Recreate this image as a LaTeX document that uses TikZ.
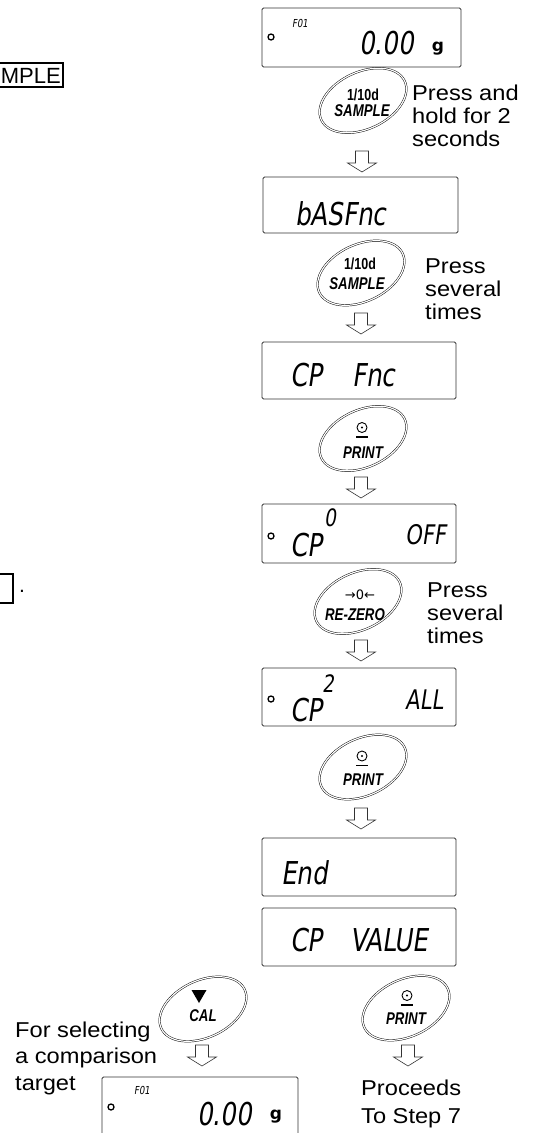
\documentclass[tikz,border=0pt]{standalone}
\usepackage{fontspec}
\setmainfont{Liberation Sans}
\newfontfamily\lcdfont[FakeSlant=0.15,FakeStretch=0.78]{DejaVu Sans}
\newfontfamily\keyfont[FakeStretch=0.78]{Liberation Sans}
\newfontfamily\notefont[FakeStretch=1.1]{Liberation Sans}
\newfontfamily\symfont{DejaVu Sans}
\usetikzlibrary{shapes.geometric}
\tikzset{
  blk/.pic={\draw[line width=0.6pt, draw=black!80, fill=white, line join=miter]
     (-6.5,0) -- (6.5,0) -- (6.5,12) -- (14.5,12) -- (0,21) -- (-14.5,12) -- (-6.5,12) -- cycle;},
  prsym/.pic={\draw[line width=0.9pt] (0,0) circle (5pt);
     \fill (0,0) circle (1.1pt);
     \draw[line width=1.3pt] (-6,9.5) -- (6,9.5);}
}
\begin{document}
\begin{tikzpicture}[x=1pt,y=-1pt,
 disp/.style={draw=black!80, line width=0.8pt, rounded corners=1.5pt, inner sep=0pt},
 btn/.style={ellipse, draw, double, double distance=1.2pt, line width=0.45pt, inner sep=0pt,
   minimum width=92pt, minimum height=57pt, rotate=25},
 keyt/.style={font=\keyfont\bfseries\itshape\fontsize{17}{17}\selectfont, inner sep=0pt},
 keyu/.style={font=\keyfont\bfseries\fontsize{16}{16}\selectfont, inner sep=0pt},
 lcdL/.style={font=\lcdfont\fontsize{31.5}{31.5}\selectfont, inner sep=0pt, anchor=west},
 lcdM/.style={font=\lcdfont\fontsize{27}{27}\selectfont, inner sep=0pt, anchor=west},
 lcdS/.style={font=\lcdfont\fontsize{24}{24}\selectfont, inner sep=0pt},
 lcdXS/.style={font=\lcdfont\fontsize{11}{11}\selectfont, inner sep=0pt},
 unitg/.style={font=\symfont\bfseries\fontsize{17}{17}\selectfont, inner sep=0pt, anchor=base},
 note/.style={font=\notefont\fontsize{21.5}{23}\selectfont, align=left, inner sep=0pt, anchor=west},
 ind/.style={circle, draw, line width=1.3pt, inner sep=0pt, minimum size=6pt},
 frag/.style={line width=1.1pt}
]
\useasboundingbox (0,0) rectangle (534,1133);
\clip (0,0) rectangle (534,1133);

% left fragments
\node[inner sep=0pt, anchor=east, font=\fontsize{22}{22}\selectfont] (sk1) at (61,75.5) {MPLE};
\draw[frag] (-5,63) -- (63,63) -- (63,87) -- (-5,87);
\coordinate (sk2) at (13,603);
\draw[frag] (-5,574) -- (13,574) -- (sk2) -- (-5,603);
\node[font=\fontsize{21}{21}\selectfont, inner sep=0pt, anchor=base west] (per) at (19,592.5) {.};

% display 1
\node[disp, minimum width=199pt, minimum height=59pt] (d1) at (361.5,37.5) {};
\node[ind] (d1dot) at (271,37) {};
\node[lcdXS] (d1f) at (300,23) {F01};
\node[lcdL, anchor=east] (d1v) at (414,43.5) {0.00};
\node[unitg] (d1g) at (438,51) {g};

% button 1
\node[btn] (b1) at (363,100.5) {};
\node[keyu] (b1a) at (363,95) {1/10d};
\node[keyt] (b1b) at (362,111) {SAMPLE};
\node[note] (n1) at (412,116) {Press and\\hold for 2\\seconds};
\pic (a1) at (362,151) {blk};

% display 2
\node[disp, minimum width=195pt, minimum height=56pt] (d2) at (360.5,205) {};
\node[lcdL] (d2t) at (295,213.5) {bASFnc};

% button 2
\node[btn] (b2) at (361,273) {};
\node[keyu] (b2a) at (360,264) {1/10d};
\node[keyt] (b2b) at (357,283.5) {SAMPLE};
\node[note] (n2) at (425,289) {Press\\several\\times};
\pic (a2) at (361,313) {blk};

% display 3
\node[disp, minimum width=194pt, minimum height=57pt] (d3) at (359,370.5) {};
\node[lcdL] (d3a) at (290,375) {CP};
\node[lcdL] (d3b) at (352,375) {Fnc};

% button 3
\node[btn] (b3) at (363,438.5) {};
\pic (b3s) at (362,427.5) {prsym};
\node[keyt] (b3t) at (363,452.5) {PRINT};
\pic (a3) at (361,477) {blk};

% display 4
\node[disp, minimum width=194pt, minimum height=59pt] (d4) at (359,533.5) {};
\node[ind] (d4dot) at (271,536) {};
\node[lcdL] (d4a) at (290,545.5) {CP};
\node[lcdS] (d4b) at (330,517.5) {0};
\node[lcdM] (d4c) at (405,535) {OFF};

% button 4
\node[btn] (b4) at (358,601.5) {};
\node[font=\symfont\fontsize{13}{13}\selectfont, inner sep=0pt] (b4a) at (360,595) {→0←};
\node[keyt] (b4b) at (355,615) {RE-ZERO};
\node[note] (n4) at (427,613) {Press\\several\\times};
\pic (a4) at (361,640) {blk};

% display 5
\node[disp, minimum width=194pt, minimum height=58pt] (d5) at (359,697) {};
\node[ind] (d5dot) at (271,699) {};
\node[lcdL] (d5a) at (290,710) {CP};
\node[lcdS] (d5b) at (328,683.5) {2};
\node[lcdM] (d5c) at (405,700) {ALL};

% button 5
\node[btn] (b5) at (363,767) {};
\pic (b5s) at (362,756) {prsym};
\node[keyt] (b5t) at (363,780) {PRINT};
\pic (a5) at (361,808) {blk};

% display 6, 7
\node[disp, minimum width=194pt, minimum height=58pt] (d6) at (359,867) {};
\node[lcdL] (d6t) at (281,873) {End};
\node[disp, minimum width=194pt, minimum height=58pt] (d7) at (359,937) {};
\node[lcdL] (d7a) at (290,940.5) {CP};
\node[lcdL] (d7b) at (350,940.5) {VALUE};

% button 6 (CAL)
\node[btn] (b6) at (203,1009) {};
\fill (191.5,990) -- (206.5,990) -- (199,1003) -- cycle;
\node[keyt] (b6t) at (203,1016) {CAL};
\pic (a6) at (202,1045) {blk};
\node[note, font=\notefont\fontsize{21.5}{26.5}\selectfont] (n6) at (15,1058) {For selecting\\a comparison\\target};

% button 7 (PRINT)
\node[btn] (b7) at (406,1008) {};
\pic (b7s) at (407,995.5) {prsym};
\node[keyt] (b7t) at (406,1018.5) {PRINT};
\pic (a7) at (408,1045) {blk};
\node[note, font=\notefont\fontsize{21.5}{28}\selectfont] (n7) at (361,1104) {Proceeds\\To Step 7};

% display 8 (cut)
\node[disp, minimum width=196pt, minimum height=59pt] (d8) at (200,1106.5) {};
\node[ind] (d8dot) at (111,1107) {};
\node[lcdXS] (d8f) at (142,1090) {F01};
\node[lcdL, anchor=east] (d8v) at (252,1114) {0.00};
\node[unitg] (d8g) at (276,1119) {g};
\end{tikzpicture}
\end{document}
